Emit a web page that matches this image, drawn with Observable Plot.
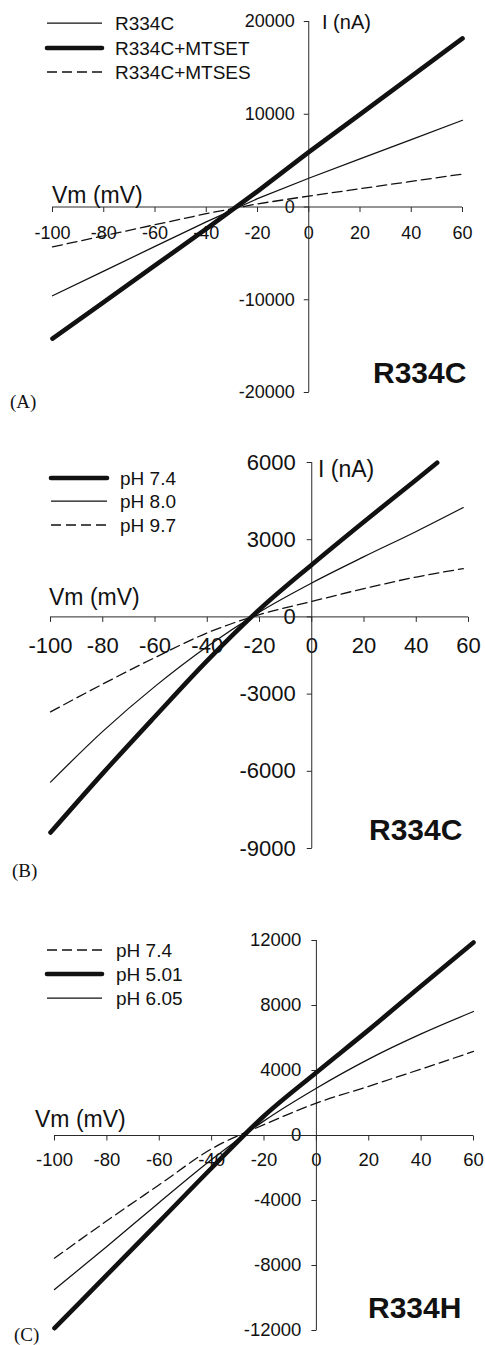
<!DOCTYPE html>
<html><head><meta charset="utf-8">
<script src="https://cdn.jsdelivr.net/npm/d3@7"></script>
<script src="https://cdn.jsdelivr.net/npm/@observablehq/plot@0.6"></script>
<style>
html,body{margin:0;padding:0;background:#fff;}
#root{position:relative;width:485px;height:1345px;overflow:hidden;font-family:"Liberation Sans",Arial,sans-serif;}
.panel{position:absolute;left:0;}
#overlay{position:absolute;left:0;top:0;pointer-events:none;}
</style></head><body><div id="root"></div>
<script>
// ---------- data ----------
const xDomain = [-100, 60];
const vmTicks = [-100, -80, -60, -40, -20, 0, 20, 40, 60];

// Panel A (R334C, MTS reagents)
const vmA = [-100, -80, -60, -40, -20, 0, 20, 40, 60];
const iA_R334C = [-9570, -6910, -4250, -1600, 900, 3100, 5180, 7270, 9350];
const iA_MTSET = [-14190, -10250, -6300, -2370, 1690, 5910, 9990, 14080, 18170];
const iA_MTSES = [-4300, -3110, -1910, -720, 340, 1180, 1970, 2760, 3550];
const seriesA = ["R334C", "R334C+MTSET", "R334C+MTSES"];
const yTicksA = [-20000, -10000, 0, 10000, 20000];

// Panel B (R334C, pH)
const vmB_74 = [-100, -80, -60, -40, -20, 0, 20, 40, 48];
const iB_74 = [-8380, -6080, -3870, -1700, 290, 2030, 3700, 5330, 5990];
const vmB_80 = [-100, -80, -60, -40, -20, 0, 20, 40, 58];
const iB_80 = [-6420, -4450, -2700, -1150, 190, 1320, 2340, 3320, 4250];
const vmB_97 = [-100, -80, -60, -40, -20, 0, 20, 40, 58];
const iB_97 = [-3690, -2610, -1580, -620, 90, 600, 1100, 1550, 1875];
const seriesB = ["pH 7.4", "pH 8.0", "pH 9.7"];
const yTicksB = [-9000, -6000, -3000, 0, 3000, 6000];

// Panel C (R334H, pH)
const vmC = [-100, -80, -60, -40, -20, 0, 20, 40, 60];
const iC_74 = [-7550, -5250, -3030, -820, 670, 1990, 3030, 4090, 5170];
const iC_501 = [-11860, -8580, -5300, -2000, 1200, 3880, 6500, 9200, 11880];
const iC_605 = [-9480, -6830, -4120, -1480, 900, 2910, 4700, 6250, 7630];
const seriesC = ["pH 7.4", "pH 5.01", "pH 6.05"];
const yTicksC = [-12000, -8000, -4000, 0, 4000, 8000, 12000];

// ---------- styles ----------
const STY = {
  thin: {strokeWidth: 1.25, dash: null},
  thick: {strokeWidth: 4.6, dash: null},
  dash: {strokeWidth: 1.3, dash: "10,5"}
};
const INK = "#111";
const AXIS = "#2a2a2a";

const root = document.getElementById("root");

const tickDown = {draw(ctx) { ctx.moveTo(0, 0); ctx.lineTo(0, 5); }};
const tickLeft = {draw(ctx) { ctx.moveTo(0, 0); ctx.lineTo(-5, 0); }};

function toRows(vm, cur) { return vm.map((v, i) => ({v, i: cur[i]})); }

function makePanel(cfg) {
  const marks = [
    Plot.text(vmTicks, {x: d => d, y: 0, dy: cfg.xLabelDy, text: d => String(d), fontSize: cfg.fontSize, fill: INK}),
    Plot.text(cfg.yTicks, {x: 0, y: d => d, dx: cfg.yLabelDx, textAnchor: "end", text: d => String(d), fontSize: cfg.fontSize, fill: INK}),
    Plot.ruleY([0], {x1: xDomain[0], x2: xDomain[1], stroke: AXIS, strokeWidth: 1}),
    Plot.ruleX([0], {y1: cfg.yDomain[0], y2: cfg.yDomain[1], stroke: AXIS, strokeWidth: 1}),
    Plot.dot(vmTicks, {x: d => d, y: 0, symbol: tickDown, stroke: AXIS, fill: "none", strokeWidth: 1}),
    Plot.dot(cfg.yTicks, {x: 0, y: d => d, symbol: tickLeft, stroke: AXIS, fill: "none", strokeWidth: 1})
  ];
  for (const s of cfg.series) {
    const st = STY[s.style];
    marks.push(Plot.line(toRows(s.vm, s.cur), {
      x: "v", y: "i", stroke: INK, strokeWidth: st.strokeWidth,
      strokeDasharray: st.dash, curve: cfg.curve, strokeLinecap: "round", strokeLinejoin: "round"
    }));
  }
  const chart = Plot.plot({
    width: 485, height: cfg.height,
    marginLeft: cfg.margins[0], marginRight: cfg.margins[1],
    marginTop: cfg.margins[2], marginBottom: cfg.margins[3],
    x: {domain: xDomain, axis: null},
    y: {domain: cfg.yDomain, axis: null},
    style: {fontFamily: "'Liberation Sans', Arial, sans-serif", background: "transparent", overflow: "visible"},
    marks
  });
  const div = document.createElement("div");
  div.className = "panel";
  div.style.top = cfg.top + "px";
  div.appendChild(chart);
  root.appendChild(div);
}

makePanel({
  top: 0, height: 430, margins: [52, 23, 21, 38],
  yDomain: [-20000, 20000], yTicks: yTicksA, xLabelDy: 26, yLabelDx: -14, fontSize: 18, curve: "linear",
  series: [
    {vm: vmA, cur: iA_R334C, style: "thin"},
    {vm: vmA, cur: iA_MTSET, style: "thick"},
    {vm: vmA, cur: iA_MTSES, style: "dash"}
  ]
});
makePanel({
  top: 430, height: 450, margins: [50, 17, 32, 32],
  yDomain: [-9000, 6000], yTicks: yTicksB, xLabelDy: 29, yLabelDx: -16, fontSize: 22, curve: "monotone-x",
  series: [
    {vm: vmB_74, cur: iB_74, style: "thick"},
    {vm: vmB_80, cur: iB_80, style: "thin"},
    {vm: vmB_97, cur: iB_97, style: "dash"}
  ]
});
makePanel({
  top: 880, height: 465, margins: [54, 12, 60, 15],
  yDomain: [-12000, 12000], yTicks: yTicksC, xLabelDy: 25, yLabelDx: -15, fontSize: 18.5, curve: "monotone-x",
  series: [
    {vm: vmC, cur: iC_74, style: "dash"},
    {vm: vmC, cur: iC_501, style: "thick"},
    {vm: vmC, cur: iC_605, style: "thin"}
  ]
});

// ---------- overlay: legends, axis titles, panel labels ----------
const ov = d3.select(root).append("svg").attr("id", "overlay")
  .attr("width", 485).attr("height", 1345)
  .style("font-family", "'Liberation Sans', Arial, sans-serif");

function legend(names, styles, x0, x1, tx, ys, fs) {
  names.forEach((n, k) => {
    const st = STY[styles[k]];
    ov.append("line").attr("x1", x0).attr("x2", x1).attr("y1", ys[k]).attr("y2", ys[k])
      .attr("stroke", INK).attr("stroke-width", st.strokeWidth)
      .attr("stroke-dasharray", st.dash).attr("stroke-linecap", styles[k] === "thick" ? "round" : "butt");
    ov.append("text").attr("x", tx).attr("y", ys[k]).attr("dy", "0.35em")
      .attr("font-size", fs).attr("fill", INK).text(n);
  });
}
function label(t, x, y, fs, opts = {}) {
  const e = ov.append("text").attr("x", x).attr("y", y).attr("font-size", fs).attr("fill", INK).text(t);
  if (opts.bold) e.attr("font-weight", "bold");
  if (opts.serif) e.attr("font-family", "'Liberation Serif', 'Times New Roman', serif");
}

legend(seriesA, ["thin", "thick", "dash"], 47, 102, 115, [23, 48, 72], 19);
label("Vm (mV)", 52, 203, 23);
label("I (nA)", 322, 29, 20);
label("R334C", 373, 383, 30, {bold: true});
label("(A)", 10, 408, 19, {serif: true});

legend(seriesB, ["thick", "thin", "dash"], 51, 107, 120, [478, 501, 525], 19);
label("Vm (mV)", 49, 605, 23);
label("I (nA)", 318, 477, 23);
label("R334C", 369, 840, 30, {bold: true});
label("(B)", 12, 877, 19, {serif: true});

legend(seriesC, ["dash", "thick", "thin"], 47, 102, 116, [950, 974, 998], 19);
label("Vm (mV)", 35, 1127, 23);
label("R334H", 368, 1318, 30, {bold: true});
label("(C)", 14, 1341, 19, {serif: true});
</script>
</body></html>
